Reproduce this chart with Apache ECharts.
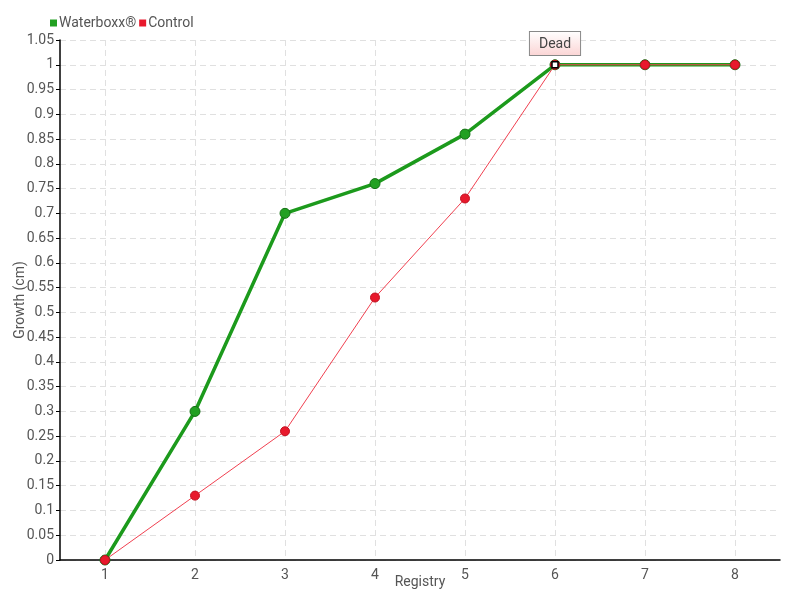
<!DOCTYPE html>
<html><head><meta charset="utf-8">
<script src="https://cdn.jsdelivr.net/npm/echarts@6/dist/echarts.min.js"></script>
<style>html,body{margin:0;padding:0;background:#fff}#c{width:800px;height:600px}</style>
</head><body><div id="c"></div>
<script>
var categories = ['1','2','3','4','5','6','7','8'];
var waterboxx = [0, 0.3, 0.7, 0.76, 0.86, 1, 1, 1];
var control = [0, 0.13, 0.26, 0.53, 0.73, 1, 1, 1];
var deadIndex = 5;
var deadLabel = 'Dead';
var FONT = 'Roboto, "Liberation Sans Narrow", sans-serif';
var chart = echarts.init(document.getElementById('c'));
chart.setOption({
  animation: false,
  textStyle: {fontFamily: FONT},
  legend: {
    left: 45, top: 11, itemWidth: 7, itemHeight: 7, itemGap: 3,
    icon: 'rect',
    itemStyle: {borderWidth: 0},
    textStyle: {fontFamily: FONT, fontSize: 14, color: '#555', padding: [0, 0, 0, -3]},
    data: ['Waterboxx®', 'Control']
  },
  grid: {left: 60, right: 20, top: 40, bottom: 40, containLabel: false, outerBoundsMode: 'none'},
  xAxis: {
    type: 'category', data: categories, boundaryGap: true,
    name: 'Registry', nameLocation: 'middle', nameGap: 22, nameMoveOverlap: false,
    nameTextStyle: {fontFamily: FONT, fontSize: 14, color: '#555', verticalAlign: 'middle'},
    axisLine: {lineStyle: {color: '#000', width: 1.5}},
    axisTick: {show: false},
    axisLabel: {fontFamily: FONT, fontSize: 14, color: '#555', margin: 8},
    splitLine: {show: true, alignWithLabel: true, lineStyle: {color: '#e0e0e0', type: [6, 4]}}
  },
  yAxis: {
    type: 'value', min: 0, max: 1.05, interval: 0.05,
    name: 'Growth (cm)', nameLocation: 'middle', nameGap: 33, nameMoveOverlap: false,
    nameTextStyle: {fontFamily: FONT, fontSize: 14, color: '#555'},
    axisLine: {show: true, lineStyle: {color: '#000', width: 1.5}},
    axisTick: {show: true, length: 4, lineStyle: {color: '#000'}},
    axisLabel: {fontFamily: FONT, fontSize: 14, color: '#555', margin: 6},
    splitLine: {show: true, lineStyle: {color: '#e0e0e0', type: [6, 4]}}
  },
  series: [
    {
      name: 'Waterboxx®', type: 'line', data: waterboxx,
      symbol: 'circle', symbolSize: 10,
      itemStyle: {color: '#22a022', borderColor: '#157015', borderWidth: 1},
      lineStyle: {color: '#1c9a1c', width: 3.5},
      z: 2
    },
    {
      name: 'Control', type: 'line', data: control,
      symbol: 'circle', symbolSize: 9,
      itemStyle: {color: '#e8192c', borderColor: '#c01020', borderWidth: 1},
      lineStyle: {color: '#f04050', width: 1},
      z: 3,
      markPoint: {
        symbol: 'rect', symbolSize: 6,
        itemStyle: {color: '#fff', borderColor: '#000', borderWidth: 1.5},
        label: {
          show: true, position: 'top', distance: 6,
          formatter: function(){ return deadLabel; },
          fontFamily: FONT, fontSize: 14, color: '#444',
          backgroundColor: {type: 'linear', x: 0, y: 0, x2: 0, y2: 1,
            colorStops: [{offset: 0, color: '#ffffff'}, {offset: 1, color: '#fbd4d4'}]},
          borderColor: '#888', borderWidth: 1, padding: [5, 9, 4, 9]
        },
        data: [{coord: [deadIndex, control[deadIndex]]}]
      }
    }
  ]
});
</script></body></html>
